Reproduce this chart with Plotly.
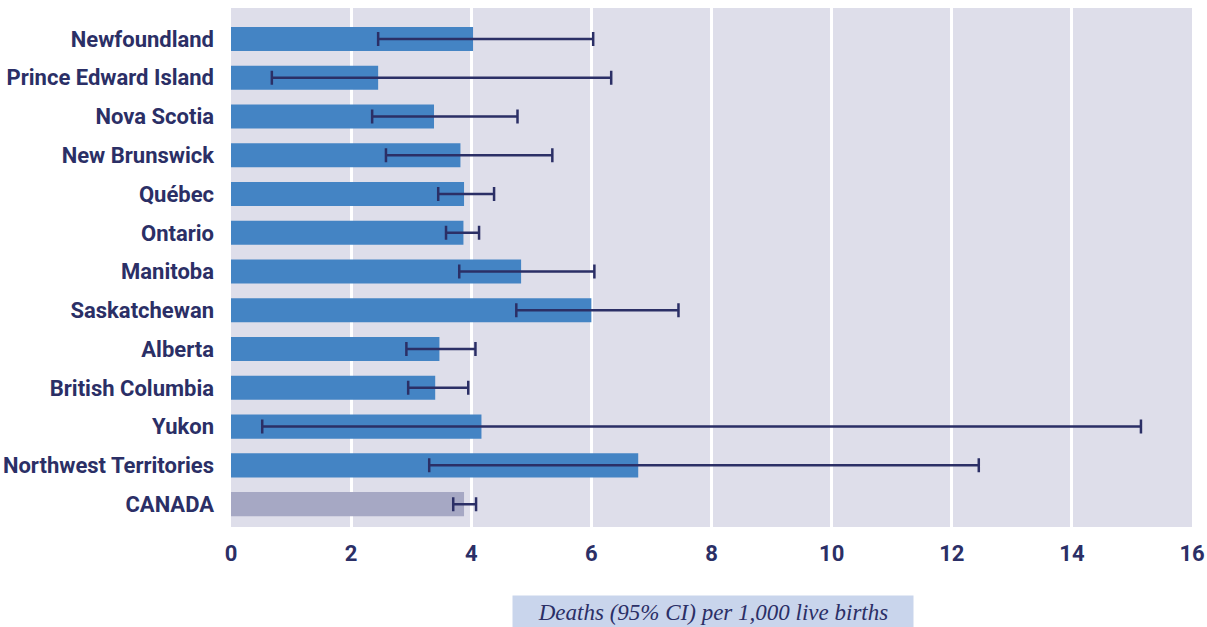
import plotly.graph_objects as go

# Infant mortality by province/territory with 95% confidence intervals
regions = ["Newfoundland", "Prince Edward Island", "Nova Scotia", "New Brunswick",
           "Québec", "Ontario", "Manitoba", "Saskatchewan", "Alberta",
           "British Columbia", "Yukon", "Northwest Territories", "CANADA"]
rate = [4.03, 2.45, 3.38, 3.82, 3.88, 3.87, 4.83, 6.0, 3.47, 3.4, 4.17, 6.78, 3.88]
ci_low = [2.45, 0.68, 2.35, 2.58, 3.45, 3.58, 3.8, 4.75, 2.92, 2.95, 0.52, 3.3, 3.7]
ci_high = [6.03, 6.33, 4.77, 5.35, 4.38, 4.13, 6.05, 7.45, 4.07, 3.95, 15.15, 12.45, 4.08]
x_ticks = [0, 2, 4, 6, 8, 10, 12, 14, 16]

NAVY = "#2b2f66"
bar_colors = ["#4484c4"] * (len(regions) - 1) + ["#a6a8c4"]

fig = go.Figure(go.Bar(
    y=regions,
    x=rate,
    orientation="h",
    width=0.62,
    marker=dict(color=bar_colors, line=dict(width=0)),
    error_x=dict(
        type="data",
        symmetric=False,
        array=[h - r for h, r in zip(ci_high, rate)],
        arrayminus=[r - l for l, r in zip(ci_low, rate)],
        color=NAVY,
        thickness=2.5,
        width=7,
    ),
    hoverinfo="skip",
))

fig.update_layout(
    width=1207,
    height=627,
    margin=dict(l=231, r=15, t=8, b=100),
    paper_bgcolor="white",
    plot_bgcolor="#dedeea",
    showlegend=False,
    bargap=0.38,
    xaxis=dict(
        range=[0, 16],
        tickvals=x_ticks,
        ticktext=[str(v) for v in x_ticks],
        automargin=False,
        showgrid=True,
        gridcolor="white",
        gridwidth=3,
        zeroline=False,
        showline=False,
        ticks="",
        ticklabelstandoff=11,
        tickfont=dict(family="Roboto, sans-serif", size=22, color=NAVY, weight="bold"),
        fixedrange=True,
    ),
    yaxis=dict(
        type="category",
        categoryorder="array",
        categoryarray=regions,
        range=[12.59, -0.8],
        automargin=False,
        showgrid=False,
        zeroline=False,
        showline=False,
        ticks="",
        ticklabelstandoff=16,
        tickfont=dict(family="Roboto, sans-serif", size=22, color=NAVY, weight="bold"),
        fixedrange=True,
    ),
    annotations=[dict(
        text="<i>Deaths (95% CI) per 1,000 live births</i>",
        xref="paper", yref="paper",
        x=(713 - 231) / (1192 - 231), y=-0.165,
        xanchor="center", yanchor="middle",
        showarrow=False,
        bgcolor="#c9d5ec",
        borderpad=4,
        width=392,
        font=dict(family="Liberation Serif, Times New Roman, serif", size=23, color=NAVY),
    )],
)

fig.write_html("out.html")
